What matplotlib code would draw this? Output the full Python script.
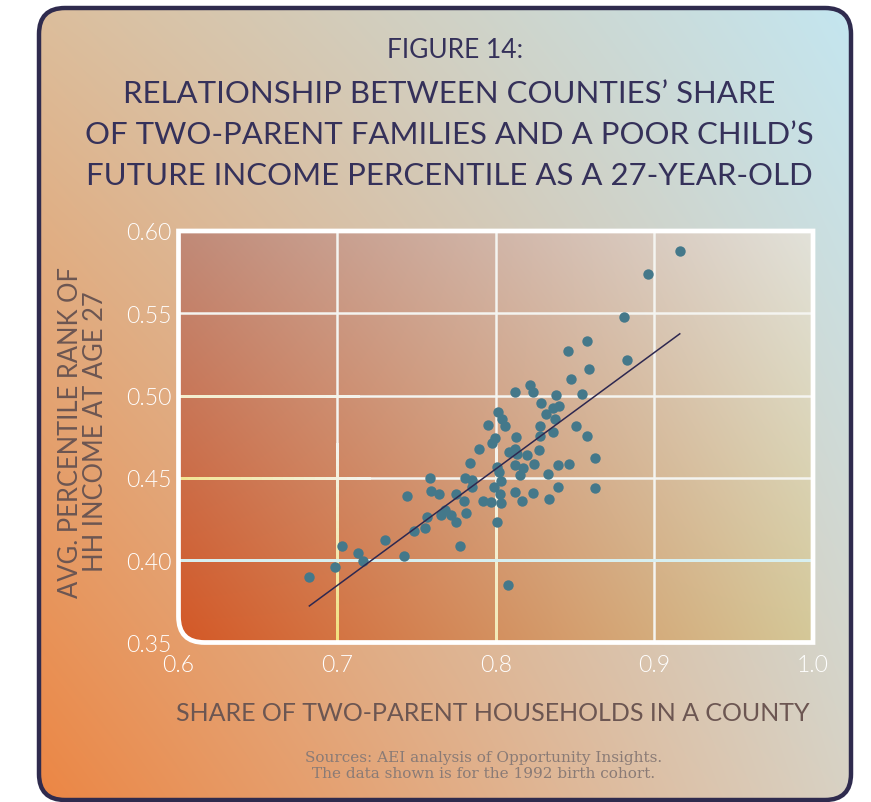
import numpy as np
import matplotlib
matplotlib.use("Agg")
import matplotlib.pyplot as plt
from matplotlib.path import Path
from matplotlib.patches import PathPatch, FancyBboxPatch
from matplotlib.collections import LineCollection

# ---------------- data ----------------
share_two_parent = [
    0.6825, 0.6989, 0.7029, 0.7134, 0.7165, 0.7302, 0.7424, 0.7438, 0.7485, 0.7551,
    0.7565, 0.7588, 0.7590, 0.7643, 0.7655, 0.7682, 0.7721, 0.7751, 0.7751, 0.7775,
    0.7801, 0.7814, 0.7806, 0.7836, 0.7849, 0.7852, 0.7897, 0.7917, 0.7972, 0.7974,
    0.7991, 0.8009, 0.8008, 0.8020, 0.8032, 0.8027, 0.8035, 0.8084, 0.8016, 0.7950,
    0.8041, 0.8061, 0.7997, 0.8122, 0.8134, 0.8199, 0.8272, 0.8123, 0.8169, 0.8243,
    0.8154, 0.8329, 0.8392, 0.8459, 0.8626, 0.8122, 0.8237, 0.8393, 0.8626, 0.8166,
    0.8338, 0.8078, 0.8284, 0.8359, 0.8401, 0.8315, 0.8376, 0.8281, 0.8360, 0.8282,
    0.8505, 0.8577, 0.8125, 0.8577, 0.8456, 0.8590, 0.8475, 0.8216, 0.8237, 0.8123,
    0.8378, 0.8546, 0.9160, 0.8960, 0.8811, 0.8830,
]
avg_rank_age27 = [
    0.3898, 0.3961, 0.4085, 0.4043, 0.3996, 0.4125, 0.4026, 0.4387, 0.4176, 0.4196,
    0.4260, 0.4502, 0.4422, 0.4405, 0.4277, 0.4308, 0.4273, 0.4232, 0.4400, 0.4085,
    0.4359, 0.4286, 0.4499, 0.4590, 0.4487, 0.4446, 0.4673, 0.4359, 0.4353, 0.4713,
    0.4442, 0.4230, 0.4568, 0.4535, 0.4479, 0.4403, 0.4345, 0.4659, 0.4900, 0.4820,
    0.4855, 0.4815, 0.4744, 0.4677, 0.4647, 0.4642, 0.4667, 0.4578, 0.4560, 0.4586,
    0.4516, 0.4523, 0.4580, 0.4585, 0.4621, 0.4414, 0.4409, 0.4444, 0.4439, 0.4361,
    0.4369, 0.3850, 0.4957, 0.4925, 0.4936, 0.4890, 0.4858, 0.4817, 0.4779, 0.4754,
    0.4813, 0.4757, 0.4746, 0.5330, 0.5272, 0.5164, 0.5100, 0.5063, 0.5022, 0.5024,
    0.5001, 0.5012, 0.5877, 0.5740, 0.5476, 0.5218,
]
fit_slope = 0.708
fit_intercept = -0.111
x_ticks = [0.6, 0.7, 0.8, 0.9, 1.0]
x_tick_labels = ["0.6", "0.7", "0.8", "0.9", "1.0"]
y_ticks = [0.35, 0.40, 0.45, 0.50, 0.55, 0.60]
y_tick_labels = ["0.35", "0.40", "0.45", "0.50", "0.55", "0.60"]

title_small = "FIGURE 14:"
title_main = ("RELATIONSHIP BETWEEN COUNTIES\u2019 SHARE\n"
              "OF TWO-PARENT FAMILIES AND A POOR CHILD\u2019S\n"
              "FUTURE INCOME PERCENTILE AS A 27-YEAR-OLD")
x_label = "SHARE OF TWO-PARENT HOUSEHOLDS IN A COUNTY"
y_label = "AVG. PERCENTILE RANK OF\nHH INCOME AT AGE 27"
source = "Sources: AEI analysis of Opportunity Insights.\nThe data shown is for the 1992 birth cohort."

# ---------------- helpers ----------------
def hex2rgb(h):
    h = h.lstrip('#')
    return np.array([int(h[i:i+2], 16) / 255 for i in (0, 2, 4)])

def bilinear(tl, tr, bl, br, n=300):
    tl, tr, bl, br = map(hex2rgb, (tl, tr, bl, br))
    u = np.linspace(0, 1, n)[None, :, None]
    v = np.linspace(0, 1, n)[:, None, None]
    top = tl * (1 - u) + tr * u
    bot = bl * (1 - u) + br * u
    return top * (1 - v) + bot * v

W, H = 871, 803
fig = plt.figure(figsize=(W / 100, H / 100), dpi=100)
fig.patch.set_facecolor("white")

FONT = "Lato"
LIGHT = 300

# background card
bg = fig.add_axes([0, 0, 1, 1])
bg.set_xlim(0, W)
bg.set_ylim(H, 0)
bg.axis("off")
card_img = bilinear("#dcbe9c", "#c4e6f0", "#ec8644", "#d8d2c4")
card = FancyBboxPatch((39, 9), 812, 792, boxstyle="round,pad=0,rounding_size=26",
                      facecolor="none", edgecolor="#2f2b4e", lw=3.2, zorder=3)
bg.add_patch(card)
im = bg.imshow(card_img, extent=[39, 851, 801, 9], aspect="auto", zorder=1,
               interpolation="bilinear")
im.set_clip_path(card)

# title texts
title_color = "#35315a"
bg.text(455, 51, title_small, ha="center", va="center", fontsize=19,
        family=FONT, weight="normal", color=title_color)
bg.text(449, 135, title_main, ha="center", va="center", fontsize=22.4,
        family=FONT, weight="normal", color=title_color, linespacing=1.58)
bg.text(493, 714, x_label, ha="center", va="center", fontsize=18.0,
        family=FONT, weight="normal", color="#6c5652")
bg.text(484, 766, source, ha="center", va="center", fontsize=11,
        family="DejaVu Serif", color="#8a7b76", linespacing=1.15)
bg.text(83, 432, y_label, ha="center", va="center", fontsize=18.4, rotation=90,
        family=FONT, weight="normal", color="#6c5652", linespacing=0.98)

# plot axes
left, right, top, bottom = 178.5, 813, 232, 643.5
ax = fig.add_axes([left / W, 1 - bottom / H, (right - left) / W, (bottom - top) / H])
ax.set_xlim(0.6, 1.0)
ax.set_ylim(0.35, 0.60)
ax.patch.set_alpha(0)
for s in ax.spines.values():
    s.set_visible(False)

rx = 26 / (right - left)
ry = 26 / (bottom - top)
verts = [(rx, 0), (1, 0), (1, 1), (0, 1), (0, ry), (0, 0), (rx, 0), (rx, 0)]
codes = [Path.MOVETO, Path.LINETO, Path.LINETO, Path.LINETO, Path.LINETO,
         Path.CURVE3, Path.CURVE3, Path.CLOSEPOLY]
frame_path = Path(verts, codes)

plot_img = bilinear("#c08a78", "#e2e2da", "#d45826", "#d4c898")
pim = ax.imshow(plot_img, extent=[0.6, 1.0, 0.35, 0.60], aspect="auto",
                zorder=0, interpolation="bilinear")
clip = PathPatch(frame_path, transform=ax.transAxes, facecolor="none", edgecolor="none")
ax.add_patch(clip)
pim.set_clip_path(clip)

# grid lines: solid white base with a soft tint overlay near the lower-left
white = hex2rgb("#f4f4f0")
yellow = hex2rgb("#f2e07c")
cyan = hex2rgb("#d4eef0")

def grid_line(p0, p1, tint, strength_fn, n=60):
    ax.plot([p0[0], p1[0]], [p0[1], p1[1]], color=white, lw=1.8, zorder=1,
            solid_capstyle="butt")
    t = np.linspace(0, 1, n + 1)
    xs = p0[0] + (p1[0] - p0[0]) * t
    ys = p0[1] + (p1[1] - p0[1]) * t
    segs, cols = [], []
    for i in range(n):
        w = strength_fn(xs[i], ys[i])
        if w <= 0.02:
            continue
        segs.append([(xs[i], ys[i]), (xs[i + 1], ys[i + 1])])
        cols.append(tuple(white * (1 - w) + tint * w) + (1.0,))
    if segs:
        ax.add_collection(LineCollection(segs, colors=cols, linewidths=1.8, zorder=1.1,
                                         capstyle="projecting", antialiased=False))

for xv in x_ticks[1:-1]:
    grid_line((xv, 0.35), (xv, 0.60), yellow,
              lambda x, y: max(0.0, 1 - (y - 0.35) / 0.12) * max(0.0, 1 - (x - 0.7) / 0.2))
for yv in y_ticks[1:-1]:
    if yv < 0.42:
        grid_line((0.6, yv), (1.0, yv), cyan, lambda x, y: 0.9)
    else:
        grid_line((0.6, yv), (1.0, yv), yellow,
                  lambda x, y: max(0.0, 1 - (x - 0.6) / 0.12) * max(0.0, 1 - (y - 0.43) / 0.1))

frame = PathPatch(frame_path, transform=ax.transAxes, facecolor="none",
                  edgecolor="white", lw=3.4, zorder=5, clip_on=False)
ax.add_patch(frame)

ax.scatter(share_two_parent, avg_rank_age27, s=56, color="#44788a", zorder=3,
           linewidths=0)
xs = np.array([min(share_two_parent), max(share_two_parent)])
ax.plot(xs, fit_slope * xs + fit_intercept, color="#2e2850", lw=1.1, zorder=4)

ax.set_xticks(x_ticks)
ax.set_xticklabels(x_tick_labels)
ax.set_yticks(y_ticks)
ax.set_yticklabels(y_tick_labels)
ax.tick_params(length=0, labelcolor="white", labelsize=16.5)
ax.tick_params(axis="x", pad=8)
ax.tick_params(axis="y", pad=5)
for lab in ax.get_xticklabels() + ax.get_yticklabels():
    lab.set_family(FONT)
    lab.set_weight(LIGHT)

fig.savefig("out.png", dpi=100)
